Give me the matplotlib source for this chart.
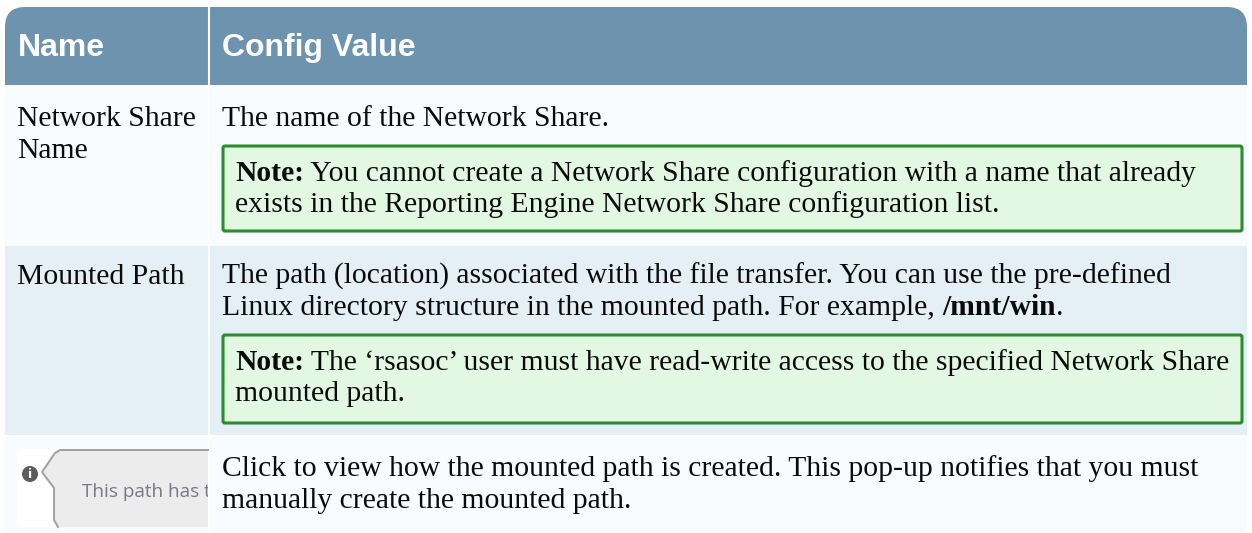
import matplotlib
matplotlib.use("Agg")
import matplotlib.pyplot as plt
from matplotlib.patches import Rectangle, FancyBboxPatch, Circle, Polygon

# Table contents
headers = ["Name", "Config Value"]
row1_name = ["Network Share", "Name"]
row1_text = "The name of the Network Share."
row1_note = ["You cannot create a Network Share configuration with a name that already",
             "exists in the Reporting Engine Network Share configuration list."]
row2_name = ["Mounted Path"]
row2_text = ["The path (location) associated with the file transfer. You can use the pre-defined",
             "Linux directory structure in the mounted path. For example, "]
row2_path = "/mnt/win"
row2_note = ["The \u2018rsasoc\u2019 user must have read-write access to the specified Network Share",
             "mounted path."]
row3_popup = "This path has t"
row3_text = ["Click to view how the mounted path is created. This pop-up notifies that you must",
             "manually create the mounted path."]

header_col = "#6d93af"
light_col = "#f8fcff"
dark_col = "#e4eff6"
note_bg = "#e3f8e3"
note_edge = "#2a8f2a"
serif = "Liberation Serif"
fs = 21.35

fig = plt.figure(figsize=(12.52, 5.33), dpi=100)
ax = fig.add_axes([0, 0, 1, 1])
ax.set_xlim(0, 1252)
ax.set_ylim(533, 0)
ax.axis("off")


def body(x, y, s, **kw):
    return ax.text(x, y, s, family=serif, fontsize=fs, color="#0a0a0a", va="baseline", **kw)


def after(t, s, **kw):
    # continue a line right where the previous piece of text ended
    fig.canvas.draw()
    end = t.get_window_extent(fig.canvas.get_renderer()).x1
    return body(end, t.get_position()[1], s, **kw)


def note(y0, y1, lines):
    ax.add_patch(FancyBboxPatch((223, y0), 1019, y1 - y0, boxstyle="round,pad=0,rounding_size=2",
                                fc=note_bg, ec=note_edge, lw=2.2))
    t = body(235, y0 + 35, "Note:", weight="bold")
    after(t, " " + lines[0])
    body(235, y0 + 66, lines[1])


# Header band, rounded on the top corners only
ax.add_patch(FancyBboxPatch((5, 7), 1242, 50, boxstyle="round,pad=0,rounding_size=20", fc=header_col, ec="none"))
ax.add_patch(Rectangle((5, 35), 1242, 50, fc=header_col, ec="none"))
ax.text(18, 56, headers[0], family="Liberation Sans", weight="bold", fontsize=23, color="white", va="baseline")
ax.text(222, 56, headers[1], family="Liberation Sans", weight="bold", fontsize=23, color="white", va="baseline")

# Row bands
ax.add_patch(Rectangle((5, 85), 1242, 161, fc=light_col, ec="none"))
ax.add_patch(Rectangle((5, 246), 1242, 189, fc=dark_col, ec="none"))
ax.add_patch(Rectangle((5, 437), 1242, 95, fc=light_col, ec="none"))
ax.plot([209, 209], [7, 532], color="white", lw=1.5)
ax.plot([5, 1247], [436, 436], color="white", lw=1.5)

# Row 1
body(17, 126, row1_name[0])
body(17, 158, row1_name[1])
body(222, 126, row1_text)
note(146, 231, row1_note)

# Row 2
body(17, 284, row2_name[0])
body(222, 284, row2_text[0])
t = body(222, 315, row2_text[1])
t = after(t, row2_path, weight="bold")
after(t, ".")
note(335, 423, row2_note)

# Row 3: screenshot of the pop-up, cut off at the column edge
ax.add_patch(Rectangle((17, 449), 191, 78, fc="white", ec="none"))
ax.add_patch(Polygon([(208, 450), (60, 450), (55, 453), (42, 472), (54, 488), (54, 520), (58, 527), (208, 527)],
                     closed=True, fc="#ececec", ec="none"))
ax.plot([208, 60, 55, 42, 54, 54, 58], [450, 450, 453, 472, 488, 520, 527], color="#a0a0a0", lw=1.4)
ax.add_patch(Circle((30, 474), 8, fc="#5c5c5c", ec="none"))
ax.text(30, 475, "i", family="DejaVu Sans", weight="bold", fontsize=9, color="white", ha="center", va="center")
clip = Rectangle((17, 449), 191, 78, transform=ax.transData)
p = ax.text(82, 497, row3_popup, family="Open Sans", fontsize=13.6, color="#7d7688", va="baseline", clip_on=True)
p.set_clip_path(clip)
body(222, 476, row3_text[0])
body(222, 508, row3_text[1])

fig.savefig("out.png", dpi=100)
